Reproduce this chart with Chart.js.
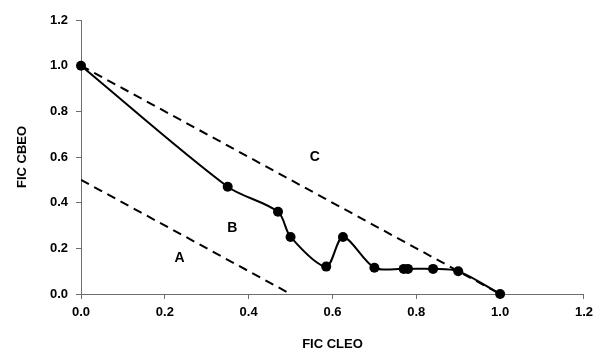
<!DOCTYPE html>
<html>
<head>
<meta charset="utf-8">
<script src="https://cdn.jsdelivr.net/npm/chart.js@4.4.0/dist/chart.umd.min.js"></script>
<style>
  body { margin: 0; background: #fff; }
  #wrap { width: 599px; height: 354px; }
</style>
</head>
<body>
<div id="wrap"><canvas id="fic"></canvas></div>
<script>
// isobologram values
var cleo = [0, 0.35, 0.47, 0.50, 0.585, 0.625, 0.70, 0.77, 0.78, 0.84, 0.90, 1.0];
var cbeo = [1.0, 0.47, 0.36, 0.25, 0.12, 0.25, 0.115, 0.11, 0.11, 0.11, 0.10, 0.0];

var lineC = [[0, 1.0], [1.0, 0]];
var lineA = [[0, 0.5], [0.5, 0]];

var regionNames = ["A", "B", "C"];
var regionX = [0.235, 0.361, 0.558];
var regionY = [0.158, 0.289, 0.601];

var tickFont = { family: "'Liberation Sans', Arial, sans-serif", size: 13, weight: 'bold' };

function toPts(xs, ys) {
    var out = [];
    for (let i = 0; i < xs.length; i++) out.push({ x: xs[i], y: ys[i] });
    return out;
}

var regionLabels = {
    id: 'regionLabels',
    afterDatasetsDraw(chart) {
        var ctx = chart.ctx;
        var xs = chart.scales.x, ys = chart.scales.y;
        ctx.save();
        ctx.font = "bold 14px 'Liberation Sans', Arial, sans-serif";
        ctx.fillStyle = '#000';
        ctx.textAlign = 'center';
        ctx.textBaseline = 'middle';
        for (let i = 0; i < regionNames.length; i++) {
            ctx.fillText(regionNames[i], xs.getPixelForValue(regionX[i]), ys.getPixelForValue(regionY[i]));
        }
        ctx.restore();
    }
};

new Chart(document.getElementById('fic'), {
    type: 'scatter',
    data: {
        datasets: [{
            data: toPts(cleo, cbeo),
            showLine: true,
            borderColor: '#000',
            backgroundColor: '#000',
            borderWidth: 2,
            pointRadius: 5,
            pointBorderWidth: 0,
            pointHoverRadius: 5,
            tension: 0.3,
            clip: false,
            order: 0
        }, {
            data: lineC.map(p => ({ x: p[0], y: p[1] })),
            showLine: true,
            borderColor: '#000',
            borderWidth: 2,
            borderDash: [9, 6],
            pointRadius: 0,
            order: 1
        }, {
            data: lineA.map(p => ({ x: p[0], y: p[1] })),
            showLine: true,
            borderColor: '#000',
            borderWidth: 2,
            borderDash: [9, 6],
            pointRadius: 0,
            order: 1
        }]
    },
    options: {
        responsive: true,
        maintainAspectRatio: false,
        animation: false,
        layout: { padding: { top: 20, right: 13, left: 0, bottom: 0 } },
        plugins: { legend: { display: false }, tooltip: { enabled: false } },
        scales: {
            x: {
                type: 'linear', min: 0, max: 1.2,
                afterFit(s) { s.height = 60; },
                border: { color: '#6e6e6e', width: 1 },
                grid: { drawOnChartArea: false, tickLength: 5, color: '#6e6e6e' },
                ticks: { stepSize: 0.2, color: '#000', font: tickFont, padding: 6,
                         callback: v => v.toFixed(1) },
                title: { display: true, text: 'FIC CLEO', color: '#000', font: tickFont,
                         padding: { top: 14, bottom: 2 } }
            },
            y: {
                type: 'linear', min: 0, max: 1.2,
                afterFit(s) { s.width = 81; },
                border: { color: '#6e6e6e', width: 1 },
                grid: { drawOnChartArea: false, tickLength: 5, color: '#6e6e6e' },
                ticks: { stepSize: 0.2, color: '#000', font: tickFont, padding: 8,
                         callback: v => v.toFixed(1) },
                title: { display: true, text: 'FIC CBEO', color: '#000', font: tickFont,
                         padding: { top: 15, bottom: 0 } }
            }
        }
    },
    plugins: [regionLabels]
});
</script>
</body>
</html>
